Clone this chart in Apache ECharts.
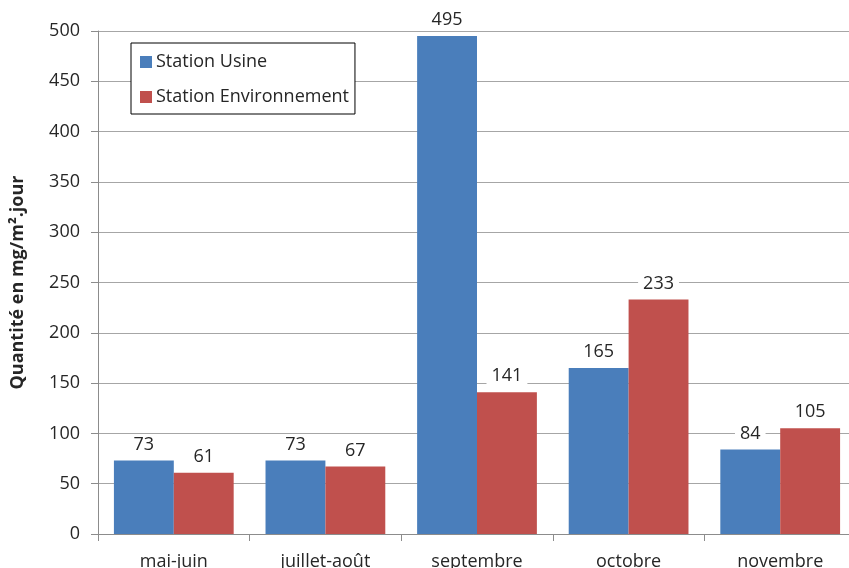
<!DOCTYPE html>
<html>
<head>
<meta charset="utf-8">
<script src="https://cdn.jsdelivr.net/npm/echarts@6/dist/echarts.min.js"></script>
<style>
  html, body { margin: 0; padding: 0; background: #fff; }
  #chart { width: 849px; height: 568px; }
</style>
</head>
<body>
<div id="chart"></div>
<script>
// Monthly deposition at two monitoring stations
const categories = ['mai-juin', 'juillet-août', 'septembre', 'octobre', 'novembre'];
const stationUsine = [73, 73, 495, 165, 84];
const stationEnvironnement = [61, 67, 141, 233, 105];
const yTicks = { min: 0, max: 500, step: 50 };

const FONT = '"Open Sans", sans-serif';
const TEXT = '#262626';
const SIZE = 18;

const valueLabel = {
  show: true,
  position: 'top',
  distance: 7,
  fontFamily: FONT,
  fontSize: SIZE,
  color: TEXT,
  backgroundColor: '#fff',
  padding: [0, 5]
};

const chart = echarts.init(document.getElementById('chart'), null, { renderer: 'canvas' });
chart.setOption({
  animation: false,
  backgroundColor: '#fff',
  textStyle: { fontFamily: FONT },
  grid: {
    left: 98, top: 31, width: 758, bottom: 34,
    containLabel: false,
    outerBoundsMode: 'none'
  },
  legend: {
    orient: 'vertical',
    left: 131,
    top: 43,
    padding: [10, 6, 8, 9],
    itemWidth: 12,
    itemHeight: 12,
    itemGap: 17,
    borderColor: '#000',
    borderWidth: 1,
    backgroundColor: '#fff',
    icon: 'rect',
    textStyle: { fontFamily: FONT, fontSize: SIZE, color: TEXT, padding: [0, 0, 0, -1] },
    data: ['Station Usine', 'Station Environnement']
  },
  xAxis: {
    type: 'category',
    data: categories,
    axisLine: { lineStyle: { color: '#8c8c8c' } },
    axisTick: { show: true, length: 7, alignWithLabel: false, lineStyle: { color: '#8c8c8c' } },
    axisLabel: { fontFamily: FONT, fontSize: SIZE, color: TEXT, margin: 19 }
  },
  yAxis: {
    type: 'value',
    min: yTicks.min,
    max: yTicks.max,
    interval: yTicks.step,
    name: 'Quantité en mg/m².jour',
    nameLocation: 'middle',
    nameGap: 71,
    nameTextStyle: { fontFamily: FONT, fontSize: 18, fontWeight: 'bold', color: TEXT },
    axisLine: { show: true, lineStyle: { color: '#8c8c8c' } },
    axisTick: { show: true, length: 7, lineStyle: { color: '#8c8c8c' } },
    axisLabel: { fontFamily: FONT, fontSize: SIZE, color: TEXT, margin: 18 },
    splitLine: { lineStyle: { color: '#a6a6a6', width: 1 } }
  },
  series: [
    {
      name: 'Station Usine',
      type: 'bar',
      data: stationUsine,
      barGap: '0%',
      barCategoryGap: '21%',
      itemStyle: { color: '#4A7EBB' },
      label: valueLabel,
      z: 3
    },
    {
      name: 'Station Environnement',
      type: 'bar',
      data: stationEnvironnement,
      barGap: '0%',
      barCategoryGap: '21%',
      itemStyle: { color: '#C0504D' },
      label: valueLabel,
      z: 3
    }
  ]
});
</script>
</body>
</html>
